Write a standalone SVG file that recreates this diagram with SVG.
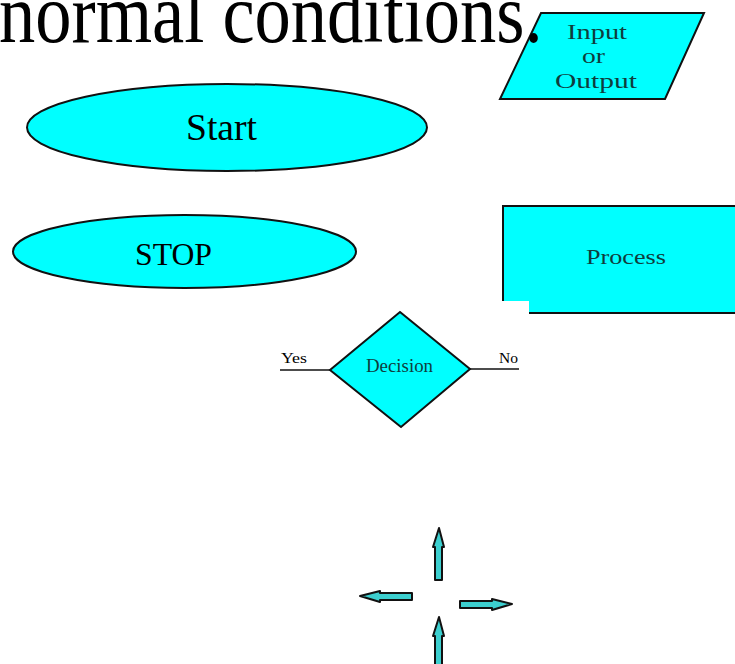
<svg xmlns="http://www.w3.org/2000/svg" width="735" height="664" viewBox="0 0 735 664">
<style>
.shape{fill:#00ffff;stroke:#111;stroke-width:2}
.serif{font-family:"Liberation Serif","Times New Roman",serif;fill:#000}
.mid{text-anchor:middle}
.dark{fill:#0f3d3d}
.arrow{fill:#3ccfcf;stroke:#111;stroke-width:2;stroke-linejoin:round}
.line{stroke:#111;stroke-width:1.5}
</style>
<rect width="735" height="664" fill="#fff"/>
<g id="io">
<polygon class="shape" stroke-width="3" points="541,13 704,13 665,99 500,99"/>
<text class="serif dark" font-size="22" x="567" y="39" textLength="60" lengthAdjust="spacingAndGlyphs">Input</text>
<text class="serif dark" font-size="22" x="582" y="63" textLength="23" lengthAdjust="spacingAndGlyphs">or</text>
<text class="serif dark" font-size="22" x="555" y="88" textLength="82" lengthAdjust="spacingAndGlyphs">Output</text>
</g>
<text class="serif" font-size="72.5" transform="translate(-1,42) scale(1,1.17)" x="0" y="0">normal conditions.</text>
<g id="start">
<ellipse class="shape" cx="227" cy="127.5" rx="200" ry="43.5"/>
<text class="serif" font-size="37" x="186" y="140" textLength="71" lengthAdjust="spacingAndGlyphs">Start</text>
</g>
<g id="stop">
<ellipse class="shape" cx="184.5" cy="251.5" rx="171.5" ry="36.5"/>
<text class="serif" font-size="32" x="135" y="265" textLength="77" lengthAdjust="spacingAndGlyphs">STOP</text>
</g>
<g id="process">
<rect class="shape" stroke-width="2.5" x="503" y="206" width="240" height="107"/>
<text class="serif dark" font-size="21" x="586" y="264" textLength="80" lengthAdjust="spacingAndGlyphs">Process</text>
</g>
<g id="decision">
<rect x="275" y="301" width="254" height="134" fill="#fff"/>
<polygon class="shape" stroke-width="3" points="400,312 470,369 401,427 330,370"/>
<text class="serif dark" font-size="18" x="366" y="372" textLength="67" lengthAdjust="spacingAndGlyphs">Decision</text>
</g>
<g id="connectors">
<line class="line" x1="280" y1="370" x2="330" y2="370"/>
<line class="line" x1="470" y1="369" x2="519" y2="369"/>
<text class="serif" font-size="14" x="281" y="363" textLength="26" lengthAdjust="spacingAndGlyphs">Yes</text>
<text class="serif" font-size="14" x="499" y="363" textLength="19" lengthAdjust="spacingAndGlyphs">No</text>
<polygon class="arrow" points="439,528 444,547 442,547 442,580 435,580 435,547 433,547"/>
<polygon class="arrow" points="360,596 380,591 380,593 412,593 412,600 380,600 380,602"/>
<polygon class="arrow" points="512,604 492,599 492,601 460,601 460,608 492,608 492,610"/>
<polygon class="arrow" points="439,617 444,636 442,636 442,668 435,668 435,636 433,636"/>
</g>
</svg>
